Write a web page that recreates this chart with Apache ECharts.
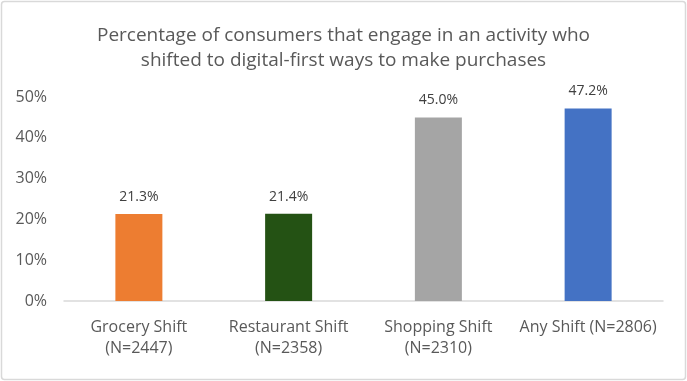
<!DOCTYPE html>
<html><head><meta charset="utf-8">
<script src="https://cdn.jsdelivr.net/npm/echarts@6/dist/echarts.min.js"></script>
<style>html,body{margin:0;padding:0;background:#fff}#c{width:687px;height:381px}</style>
</head><body><div id="c"></div>
<script>
const categories = ["Grocery Shift\n(N=2447)", "Restaurant Shift\n(N=2358)", "Shopping Shift\n(N=2310)", "Any Shift (N=2806)"];
const values = [21.3, 21.4, 45.0, 47.2];
const colors = ["#ED7D31", "#245214", "#A5A5A5", "#4472C4"];
const titleText = "Percentage of consumers that engage in an activity who\nshifted to digital-first ways to make purchases";
const font = "'Open Sans', 'Noto Sans', sans-serif";

const chart = echarts.init(document.getElementById('c'), null, {renderer: 'canvas'});
chart.setOption({
  animation: false,
  textStyle: {fontFamily: font},
  graphic: [{type: 'rect', shape: {x: 1.5, y: 1.5, width: 684, height: 378, r: 3}, style: {fill: 'none', stroke: '#d9d9d9', lineWidth: 1.5}, z: -1}],
  title: {text: titleText, left: 'center', top: 18, textStyle: {fontFamily: font, fontSize: 19, fontWeight: 'normal', color: '#595959', lineHeight: 25}},
  grid: {left: 64, right: 24, top: 97, bottom: 80, containLabel: false},
  xAxis: {type: 'category', data: categories,
    axisLine: {lineStyle: {color: '#d9d9d9', width: 1.5}}, axisTick: {show: false},
    axisLabel: {color: '#595959', fontSize: 16, fontFamily: font, lineHeight: 21, margin: 16, interval: 0}},
  yAxis: {type: 'value', min: 0, max: 50, interval: 10,
    splitLine: {show: false}, axisLine: {show: false}, axisTick: {show: false},
    axisLabel: {formatter: '{value}%', color: '#595959', fontSize: 16, fontFamily: font, margin: 17}},
  series: [{type: 'bar', barWidth: 47,
    data: values.map((v, i) => ({value: v, itemStyle: {color: colors[i]}})),
    label: {show: true, position: 'top', distance: 10, formatter: p => p.value.toFixed(1) + '%', color: '#404040', fontSize: 14, fontFamily: font}}]
});
</script></body></html>
